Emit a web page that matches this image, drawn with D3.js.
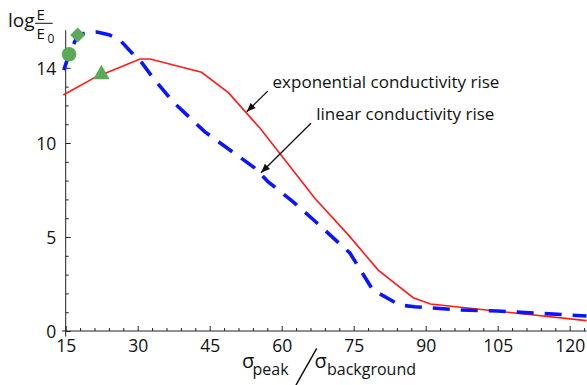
<!DOCTYPE html>
<html><head><meta charset="utf-8">
<script src="https://cdn.jsdelivr.net/npm/d3@7"></script>
<style>
html,body{margin:0;padding:0;background:#fff;}
svg{display:block;font-family:"Open Sans",sans-serif;}
</style></head>
<body><svg id="c" width="587" height="385"></svg>
<script>
// ---- data ----
const expX = [14.5, 21.1, 30.5, 32.6, 43.3, 48.9, 55.5, 66.9, 74.2, 80.1, 87.4, 91.0, 104.1, 123.5];
const expY = [12.55, 13.49, 14.47, 14.47, 13.76, 12.68, 10.78, 7.06, 5.02, 3.24, 1.77, 1.44, 1.08, 0.55];
const linX = [14.6, 15.7, 17.5, 19.5, 21.5, 24, 26.3, 28.8, 30.9, 33.2, 37.4, 44.0, 49.2, 54.4, 57.2, 62.2, 66.9, 71.7, 74.2, 79.0, 84.6, 87.7, 97.1, 105, 120, 123.5];
const linY = [13.88, 14.72, 15.74, 15.88, 15.9, 15.76, 15.48, 14.79, 14.26, 13.46, 12.18, 10.59, 9.63, 8.67, 7.93, 6.91, 5.85, 4.73, 4.15, 2.18, 1.38, 1.29, 1.12, 1.06, 0.85, 0.8];
const markerX = [17.5, 15.7, 22.44];
const markerY = [15.74, 14.72, 13.65];
const markerShape = ["diamond", "circle", "triangle"];
const xTicks = [15, 30, 45, 60, 75, 90, 105, 120];
const yTicks = [0, 5, 10, 14];
const annText = ["exponential conductivity rise", "linear conductivity rise"];

// ---- scales ----
const svg = d3.select("#c");
const x = d3.scaleLinear().domain([14.2, 123.5]).range([61.86, 586.5]);
const y = d3.scaleLinear().domain([-0.3, 16]).range([336.64, 30.2]);
const axisColor = "#222";

// axis lines crossing at (15,0)
svg.append("line").attr("x1", x(14.2)).attr("x2", x(123.5)).attr("y1", y(0)).attr("y2", y(0))
  .attr("stroke", axisColor).attr("stroke-width", 1);
svg.append("line").attr("x1", x(15)).attr("x2", x(15)).attr("y1", y(-0.3)).attr("y2", y(16))
  .attr("stroke", axisColor).attr("stroke-width", 1);

// x axis
const xMinor = d3.range(18, 124, 3).filter(v => (v - 15) % 15 !== 0);
const gxm = svg.append("g").attr("transform", `translate(0,${y(0)})`)
  .call(d3.axisBottom(x).tickValues(xMinor).tickSize(-3).tickFormat(""));
const gx = svg.append("g").attr("transform", `translate(0,${y(0)})`)
  .call(d3.axisBottom(x).tickValues(xTicks).tickSize(-5).tickFormat(d3.format("d")));
[gxm, gx].forEach(g => { g.select(".domain").remove(); g.selectAll("line").attr("stroke", axisColor); });
gx.selectAll("text").attr("y", 21).attr("dy", null).attr("fill", "#111")
  .style("font-size", "17.5px").style("font-family", "'Open Sans',sans-serif");

// y axis
const yMinor = d3.range(1, 16).filter(v => !yTicks.includes(v));
const gym = svg.append("g").attr("transform", `translate(${x(15)},0)`)
  .call(d3.axisLeft(y).tickValues(yMinor).tickSize(-3).tickFormat(""));
const gy = svg.append("g").attr("transform", `translate(${x(15)},0)`)
  .call(d3.axisLeft(y).tickValues(yTicks).tickSize(-5).tickFormat(d3.format("d")));
[gym, gy].forEach(g => { g.select(".domain").remove(); g.selectAll("line").attr("stroke", axisColor); });
gy.selectAll("text").attr("x", -9.5).attr("dy", "0.36em").attr("fill", "#111")
  .style("font-size", "17.5px").style("font-family", "'Open Sans',sans-serif");

// lines
const line = d3.line().x(d => x(d[0])).y(d => y(d[1]));
svg.append("path").datum(d3.zip(expX, expY)).attr("d", line)
  .attr("fill", "none").attr("stroke", "#ff1a1a").attr("stroke-width", 1.6);
svg.append("path").datum(d3.zip(linX, linY)).attr("d", line)
  .attr("fill", "none").attr("stroke", "#0a14ff").attr("stroke-width", 3.6)
  .attr("stroke-dasharray", "17,11");

// markers
const symMap = {
  diamond: {type: d3.symbolSquare, size: 112, rot: 45},
  circle: {type: d3.symbolCircle, size: 167, rot: 0},
  triangle: {type: d3.symbolTriangle, size: 118, rot: 0}
};
svg.append("g").selectAll("path").data(d3.range(markerX.length)).join("path")
  .attr("d", i => d3.symbol().type(symMap[markerShape[i]].type).size(symMap[markerShape[i]].size)())
  .attr("transform", i => `translate(${x(markerX[i])},${y(markerY[i])}) rotate(${symMap[markerShape[i]].rot})`)
  .attr("fill", "#5aaa5a");

// arrowheads
svg.append("defs").append("marker").attr("id", "ah")
  .attr("markerUnits", "userSpaceOnUse").attr("markerWidth", 12).attr("markerHeight", 12)
  .attr("viewBox", "-10 -5 12 10").attr("refX", 0).attr("refY", 0).attr("orient", "auto")
  .append("path").attr("d", "M0,0 L-9,-3.6 L-9,3.6 Z").attr("fill", "#111");

// annotations (data coordinates)
const annAt = [[58.1, 12.94], [67.2, 11.22]];
const arrFrom = [[57.08, 12.76], [66.1, 11.05]];
const arrTo = [[52.71, 11.66], [55.69, 8.42]];
annText.forEach((t, i) => {
  svg.append("text").attr("x", x(annAt[i][0])).attr("y", y(annAt[i][1]))
    .style("font-size", "17px").attr("fill", "#111").text(t);
  svg.append("line").attr("x1", x(arrFrom[i][0])).attr("y1", y(arrFrom[i][1]))
    .attr("x2", x(arrTo[i][0])).attr("y2", y(arrTo[i][1]))
    .attr("stroke", "#111").attr("stroke-width", 1.3).attr("marker-end", "url(#ah)");
});

// y axis label: log E/E0
svg.append("text").attr("x", 8).attr("y", 27).style("font-size", "19px").attr("fill", "#111").text("log");
svg.append("text").attr("x", 36.5).attr("y", 20).style("font-size", "15px").attr("fill", "#111").text("E");
svg.append("line").attr("x1", 35).attr("x2", 52.7).attr("y1", 23.3).attr("y2", 23.3).attr("stroke", "#111").attr("stroke-width", 1);
svg.append("text").attr("x", 36.5).attr("y", 39.3).style("font-size", "15px").attr("fill", "#111").text("E");
svg.append("text").attr("x", 47.5).attr("y", 43.3).style("font-size", "12px").attr("fill", "#111").text("0");

// x axis label: sigma_peak / sigma_background
svg.append("text").attr("x", 242).attr("y", 368).style("font-size", "20px").attr("fill", "#111").text("σ");
svg.append("text").attr("x", 252.5).attr("y", 375).style("font-size", "16px").attr("fill", "#111").text("peak");
svg.append("line").attr("x1", 316.7).attr("y1", 348.3).attr("x2", 296).attr("y2", 385)
  .attr("stroke", "#111").attr("stroke-width", 1.5);
svg.append("text").attr("x", 314.5).attr("y", 368).style("font-size", "20px").attr("fill", "#111").text("σ");
svg.append("text").attr("x", 327).attr("y", 375).style("font-size", "16px").attr("fill", "#111").text("background");
</script></body></html>
